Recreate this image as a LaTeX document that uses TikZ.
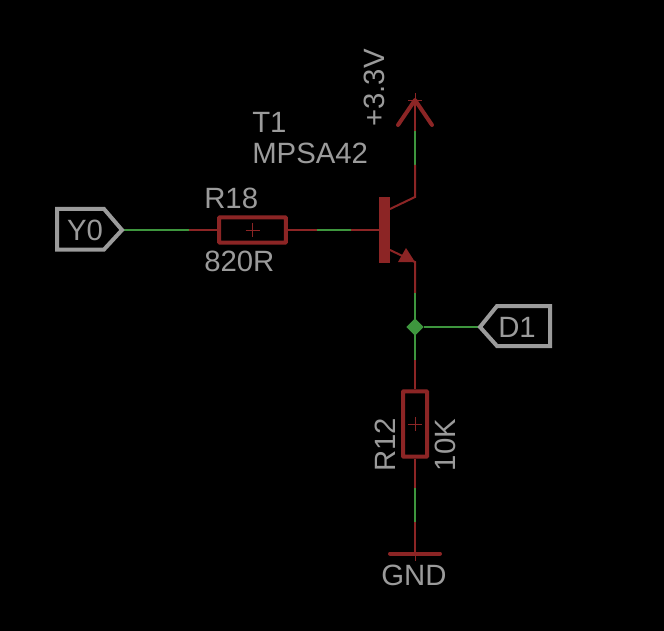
\documentclass[tikz,border=0pt]{standalone}
\usetikzlibrary{shapes.geometric}
\usepackage{fontspec}
\setmainfont{Liberation Sans}
\definecolor{netred}{RGB}{140,37,37}
\definecolor{netgreen}{RGB}{62,150,62}
\definecolor{labelgrey}{RGB}{155,155,155}
\begin{document}
\begin{tikzpicture}[x=0.75pt, y=-0.75pt]
  \tikzstyle{pin}=[netred, line width=1.5pt]
  \tikzstyle{net}=[netgreen, line width=1.5pt]
  \tikzstyle{part}=[netred, line width=3pt, line cap=round, line join=round]
  \tikzstyle{origin}=[netred, line width=0.5pt]
  \tikzstyle{tag}=[labelgrey, line width=3pt, line join=miter]
  \tikzstyle{label}=[labelgrey, font=\fontsize{22}{22}\selectfont, inner sep=0pt]
  \tikzstyle{resistor}=[draw=netred, line width=3pt, rounded corners=0.5pt, inner sep=0pt]
  \fill[black] (0,0) rectangle (664,631);
  \useasboundingbox (0,0) rectangle (664,631);
  % parts
  \node[resistor, minimum width=50pt, minimum height=19pt] (r18) at (252.5,230) {};
  \node[resistor, minimum width=18pt, minimum height=49pt] (r12) at (415,424) {};
  \node[fill=netred, inner sep=0pt, minimum width=8pt, minimum height=49pt] (t1) at (384.5,230) {};
  \coordinate (y0tip) at (122,230);
  \coordinate (y0a) at (189,230);
  \coordinate (y0b) at (317,230);
  \coordinate (y0c) at (351,230);
  \coordinate (vcc) at (415,100);
  \coordinate (vcca) at (415,131);
  \coordinate (vccb) at (415,165);
  \coordinate (col) at (415,197);
  \coordinate (colb) at (390,209);
  \coordinate (emb) at (390,250);
  \coordinate (em) at (415,262);
  \coordinate (ema) at (415,293);
  \coordinate (d1tip) at (480,327);
  \coordinate (r12a) at (415,360);
  \coordinate (r12b) at (415,488);
  \coordinate (r12c) at (415,522);
  \coordinate (gnd) at (415,553.5);
  \node[fill=netgreen, diamond, aspect=1, inner sep=0pt, minimum size=13pt] (dot) at (415,327) {};
  % wires
  \draw[net] (y0tip) -- (y0a);
  \draw[pin] (y0a) -- (r18.west);
  \draw[pin] (r18.east) -- (y0b);
  \draw[net] (y0b) -- (y0c);
  \draw[pin] (y0c) -- (t1.west);
  \draw[pin] (vcc) -- (vcca);
  \draw[net] (vcca) -- (vccb);
  \draw[pin] (vccb) -- (col) -- (colb);
  \draw[pin] (emb) -- (em) -- (ema);
  \fill[netred] (em) -- (398,262) -- (406,248) -- cycle;
  \draw[net] (ema) -- (r12a);
  \draw[net] (dot) -- (d1tip);
  \draw[pin] (r12a) -- (r12.north);
  \draw[pin] (r12.south) -- (r12b);
  \draw[net] (r12b) -- (r12c);
  \draw[pin] (r12c) -- (gnd);
  % supply symbols
  \draw[part] (398,125) -- (vcc) -- (432,125);
  \draw[part] (390,553.5) -- (gnd) -- (440,553.5);
  % origin crosses
  \draw[origin] (r18.center) +(-7,0) -- +(7,0) +(0,-7) -- +(0,7);
  \draw[origin] (r12.center) +(-7,0) -- +(7,0) +(0,-7) -- +(0,7);
  \draw[origin] (vcc) +(-7,0) -- +(7,0) +(0,-7) -- +(0,7);
  \draw[origin] (gnd) +(0,-7) -- +(0,7);
  % tags
  \draw[tag] (y0tip) -- (104,209) -- (57,209) -- (57,249.5) -- (104,249.5) -- cycle;
  \draw[tag] (d1tip) -- (497,306) -- (550,306) -- (550,346) -- (497,346) -- cycle;
  \node[label] (y0) at (85,230.5) {Y0};
  \node[label] (d1) at (517,327) {D1};
  % values
  \node[label, anchor=west] (t1name) at (252,122) {T1};
  \node[label, anchor=west] (t1value) at (252,153) {MPSA42};
  \node[label, anchor=west] (r18name) at (204,198) {R18};
  \node[label, anchor=west] (r18value) at (204,261) {820R};
  \node[label, rotate=90] (r12name) at (385,445) {R12};
  \node[label, rotate=90] (r12value) at (445,445) {10K};
  \node[label, rotate=90] (vccname) at (374,88) {+3.3V};
  \node[label] (gndname) at (414,575) {GND};
\end{tikzpicture}
\end{document}
